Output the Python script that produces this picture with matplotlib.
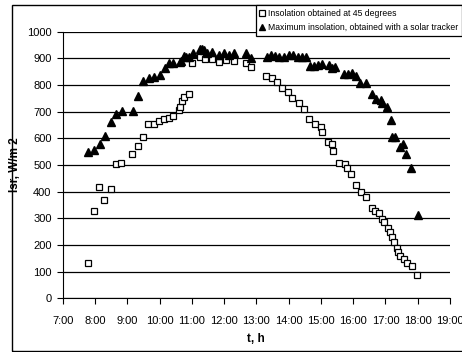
import matplotlib.pyplot as plt
from matplotlib.patches import Rectangle

# time in decimal hours, insolation in W/m2
t_45 = [7.79, 7.97, 8.13, 8.29, 8.50, 8.64, 8.80, 9.15, 9.32, 9.48,
        9.65, 9.82, 9.98, 10.14, 10.29, 10.41, 10.61, 10.64, 10.70, 10.77,
        10.90, 11.01, 11.26, 11.41, 11.62, 11.84, 12.07, 12.30, 12.67, 12.82,
        13.31, 13.47, 13.64, 13.81, 13.98, 14.11, 14.32, 14.49, 14.64, 14.82,
        14.99, 15.04, 15.22, 15.33, 15.36, 15.55, 15.74, 15.81, 15.93, 16.10,
        16.24, 16.41, 16.58, 16.69, 16.80, 16.90, 16.96, 17.08, 17.15, 17.20,
        17.26, 17.36, 17.40, 17.46, 17.56, 17.67, 17.82, 17.99]
i_45 = [131, 327, 418, 368, 410, 502, 508, 540, 571, 606,
        652, 652, 666, 671, 677, 685, 706, 716, 741, 756,
        766, 881, 904, 899, 896, 886, 892, 891, 881, 868,
        834, 825, 812, 787, 775, 750, 734, 711, 672, 654,
        641, 622, 587, 579, 553, 508, 502, 487, 465, 425,
        400, 379, 340, 329, 319, 296, 287, 262, 250, 231,
        212, 187, 175, 159, 146, 131, 121, 86]

t_trk = [7.79, 7.98, 8.15, 8.31, 8.50, 8.65, 8.83, 9.17, 9.34, 9.50,
         9.67, 9.84, 10.01, 10.16, 10.30, 10.42, 10.63, 10.68, 10.75, 10.81,
         10.91, 11.03, 11.25, 11.32, 11.38, 11.46, 11.63, 11.84, 12.00, 12.16,
         12.32, 12.67, 12.82, 13.34, 13.44, 13.57, 13.70, 13.85, 14.01, 14.14,
         14.29, 14.40, 14.53, 14.65, 14.79, 14.91, 15.04, 15.24, 15.34, 15.44,
         15.71, 15.83, 15.96, 16.10, 16.21, 16.39, 16.57, 16.70, 16.85, 16.90,
         17.04, 17.16, 17.21, 17.31, 17.46, 17.54, 17.64, 17.80, 18.01]
i_trk = [550, 556, 577, 609, 662, 691, 703, 703, 759, 816,
         825, 829, 837, 862, 881, 881, 885, 890, 908, 906,
         904, 919, 934, 934, 930, 919, 922, 912, 919, 912,
         921, 921, 900, 904, 912, 908, 906, 906, 912, 912,
         906, 904, 904, 872, 872, 875, 879, 875, 862, 869,
         841, 841, 846, 834, 806, 806, 766, 746, 744, 734,
         716, 669, 606, 604, 569, 580, 541, 487, 312]

hours = list(range(7, 20))
hour_labels = [f"{h}:00" for h in hours]

plt.rcParams['font.family'] = ['Liberation Sans', 'DejaVu Sans']

fig = plt.figure(figsize=(4.62, 3.52), dpi=100)
ax = fig.add_axes([0.1357, 0.1525, 0.8383, 0.7575])

# outer frame round the chart
fig.patches.append(Rectangle((12 / 462, 1 / 352), 1.0, 346 / 352, transform=fig.transFigure,
                             fill=False, edgecolor='black', linewidth=1.0))

ax.plot(t_45, i_45, linestyle='none', marker='s', markersize=5, markerfacecolor='white',
        markeredgecolor='black', markeredgewidth=0.9,
        label='Insolation obtained at 45 degrees')
ax.plot(t_trk, i_trk, linestyle='none', marker='^', markersize=6, color='black',
        label='Maximum insolation, obtained with a solar tracker')

ax.set_xlim(7, 19)
ax.set_ylim(0, 1000)
ax.set_xticks(hours)
ax.set_xticklabels(hour_labels)
ax.set_yticks(range(0, 1001, 100))
ax.yaxis.grid(True, color='black', linewidth=0.9)
ax.set_axisbelow(True)
for s in ['top', 'right']:
    ax.spines[s].set_visible(False)
ax.tick_params(axis='both', labelsize=8, direction='out', length=4, width=0.8, pad=4)
ax.tick_params(axis='x', pad=9)

ax.set_xlabel('t, h', fontsize=8.5, fontweight='bold', labelpad=5)
ax.set_ylabel('Isr, W/m 2', fontsize=8.5, fontweight='bold', labelpad=4)

leg = fig.legend(loc='upper left', bbox_to_anchor=(256 / 462, 1 - 5 / 352), frameon=True,
                 fancybox=False, edgecolor='black', framealpha=1, fontsize=6.2,
                 handlelength=0.6, handletextpad=0.3, borderpad=0.45, labelspacing=0.6,
                 borderaxespad=0)
leg.get_frame().set_linewidth(0.9)
for h in leg.legend_handles:
    h.set_markersize(4.5)

fig.savefig('out.png', dpi=100)
